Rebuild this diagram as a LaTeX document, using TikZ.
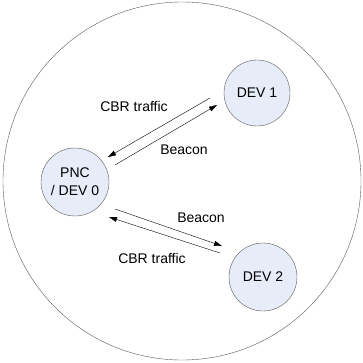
\documentclass[tikz,border=0pt]{standalone}
\usepackage{fontspec}
\setmainfont{Liberation Sans}
\usetikzlibrary{arrows.meta}
\definecolor{devfill}{RGB}{230,236,248}
\definecolor{devline}{RGB}{90,90,90}
\begin{document}
\begin{tikzpicture}[x=1pt,y=1pt,font=\fontsize{14}{18}\selectfont,
	dev/.style={circle,draw=devline,thin,fill=devfill,minimum size=68pt,inner sep=0pt,align=center},
	link/.style={thin,-{Triangle[length=8pt,width=5pt]}}]
	\useasboundingbox (0,0) rectangle (363,362);
	\draw[devline, thin] (182,181) circle (179);
	% the three stations
	\node[dev] (pnc) at (75,180) {PNC\\/ DEV 0};
	\node[dev, minimum size=66pt] (dev1) at (257,269) {DEV 1};
	\node[dev] (dev2) at (263,85) {DEV 2};
	% traffic between PNC and DEV 1
	\draw[link] ([shift={(-47,-5)}]dev1.center) -- ([shift={(33,25)}]pnc.center);
	\draw[link] ([shift={(40,17)}]pnc.center) -- ([shift={(-40,-12)}]dev1.center);
	\node (cbr1) at (134,256) {CBR traffic};
	\node (bcn1) at (184,212) {Beacon};
	% traffic between PNC and DEV 2
	\draw[link] ([shift={(40,-27)}]pnc.center) -- ([shift={(-41,31)}]dev2.center);
	\draw[link] ([shift={(-43,24)}]dev2.center) -- ([shift={(34,-35)}]pnc.center);
	\node (bcn2) at (201,144) {Beacon};
	\node (cbr2) at (152,104) {CBR traffic};
\end{tikzpicture}
\end{document}
